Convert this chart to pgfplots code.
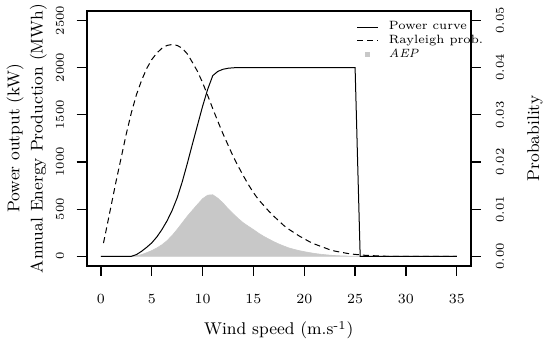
\documentclass[border=0pt]{standalone}
\usepackage{pgfplots}
\pgfplotsset{compat=1.18}
\usepackage{pgfplotstable}
\definecolor{aep}{RGB}{200,200,200}

\pgfplotstableread{
v P
0 0
0.5 0
1 0
1.5 0
2 0
2.5 0
3 0
3.5 18
4 53
4.5 95
5 142
5.5 205
6 283
6.5 375
7 485
7.5 620
8 790
8.5 985
9 1190
9.5 1390
10 1590
10.5 1770
11 1915
11.5 1960
12 1982
12.5 1993
13 1998
13.5 2000
14 2000
15 2000
20 2000
25 2000
25.5 0
30 0
35 0
}\powertab

\pgfplotstableread{
v p
0.25 0.0028
0.5 0.0054
1 0.0107
1.5 0.0160
2 0.0210
2.5 0.0260
3 0.0305
3.5 0.0343
4 0.0373
4.5 0.0398
5 0.0417
5.5 0.0431
6 0.0441
6.5 0.0447
7 0.0449
7.5 0.0447
8 0.0441
8.5 0.0429
9 0.0411
9.5 0.0392
10 0.0368
10.5 0.0341
11 0.0313
11.5 0.0286
12 0.0260
12.5 0.0236
13 0.0212
13.5 0.0191
14 0.0171
14.5 0.0152
15 0.0135
15.5 0.0120
16 0.0108
16.5 0.0096
17 0.0085
17.5 0.0075
18 0.0065
18.5 0.0057
19 0.0050
19.5 0.0043
20 0.0037
20.5 0.0031
21 0.0026
21.5 0.0022
22 0.0018
22.5 0.0014
23 0.0011
23.5 0.0009
24 0.0007
24.5 0.0005
25 0.0004
25.5 0.0003
26 0.0002
27 0.0001
28 0
35 0
}\probtab

\pgfplotstableread{
v E
0 0
3 0
3.5 5
4 18
4.5 38
5 60
5.5 88
6 122
6.5 165
7 220
7.5 285
8 355
8.5 425
9 488
9.5 550
10 610
10.5 648
11 652
11.5 615
12 565
12.5 505
13 452
13.5 400
14 355
14.5 318
15 283
15.5 245
16 212
16.5 183
17 155
17.5 130
18 108
18.5 88
19 73
19.5 60
20 49
20.5 39
21 30
21.5 23
22 17
22.5 12
23 8
23.5 5
24 3
24.5 1.5
25 0.5
25.5 0
35 0
}\aeptab

\begin{document}
\begin{tikzpicture}
\pgfplotsset{
  base/.style={
    width=192.15pt, height=127.35pt, scale only axis,
    xmin=-1.4, xmax=36.4,
    tick align=outside, major tick length=5pt,
    tick style={black, line width=0.6pt},
    axis line style={black, line width=1pt},
    scaled ticks=false,
    /pgf/number format/1000 sep={},
  }
}
\begin{axis}[base,
  ymin=-100, ymax=2600,
  xtick={0,5,10,15,20,25,30,35},
  ytick={0,500,1000,1500,2000,2500},
  xtick pos=lower, ytick pos=left,
  xticklabel style={font=\fontsize{7}{8}\selectfont, anchor=center, yshift=-11.65pt},
  yticklabel style={font=\fontsize{6.5}{7}\selectfont, rotate=90, anchor=center, yshift=8.35pt},
  xlabel={Wind speed (m.s\textsuperscript{-1})},
  xlabel style={font=\fontsize{8.5}{10}\selectfont, at={(rel axis cs:0.5,0)}, anchor=center, yshift=-32.15pt},
  ylabel={Power output (kW)\\Annual Energy Production (MWh)},
  ylabel style={font=\fontsize{8.5}{11.65}\selectfont, align=center, at={(rel axis cs:0,0.5)}, anchor=center, yshift=30pt},
]
\addplot[fill=aep, draw=aep, line width=0.3pt] table[x=v, y=E] {\aeptab} \closedcycle;
\addplot[black, line width=0.5pt] table[x=v, y=P] {\powertab};
\coordinate (bl) at (rel axis cs:0,0);
\end{axis}
\begin{axis}[base,
  ymin=-0.002, ymax=0.052,
  axis x line=none, axis y line*=right,
  ytick={0,0.01,0.02,0.03,0.04,0.05},
  yticklabel={\pgfmathprintnumber[fixed, fixed zerofill, precision=2]{\tick}},
  yticklabel style={font=\fontsize{6.5}{7}\selectfont, rotate=90, anchor=center, yshift=-9.5pt},
  ylabel={Probability},
  ylabel style={font=\fontsize{8.5}{10}\selectfont, at={(rel axis cs:1,0.5)}, anchor=center, yshift=-32pt},
  legend style={draw=none, fill=none, at={(rel axis cs:0.703,0.964)}, anchor=north west,
    inner sep=0pt, outer sep=0pt, font=\fontsize{6}{7}\selectfont, row sep=0pt,
    nodes={inner xsep=0pt, inner ysep=0.4pt, text height=4.5pt, text depth=1.6pt},
    /tikz/every odd column/.append style={column sep=5pt}},
  legend cell align=left,
  legend image code/.code={\draw[#1] (0pt,0pt) -- (10.5pt,0pt);},
]
\addlegendimage{black, line width=0.5pt}
\addlegendentry{Power curve}
\addplot[black, line width=0.5pt, dash pattern=on 3pt off 2pt] table[x=v, y=p] {\probtab};
\addlegendentry{Rayleigh prob.}
\addlegendimage{legend image code/.code={\fill[aep] (4.25pt,-1pt) rectangle (6.25pt,1pt);}}
\addlegendentry{\textit{AEP}}
\end{axis}
\pgfresetboundingbox
\path (bl) ++(-43.35pt,-38.65pt) rectangle ++(271.5pt,171.5pt);
\end{tikzpicture}
\end{document}
